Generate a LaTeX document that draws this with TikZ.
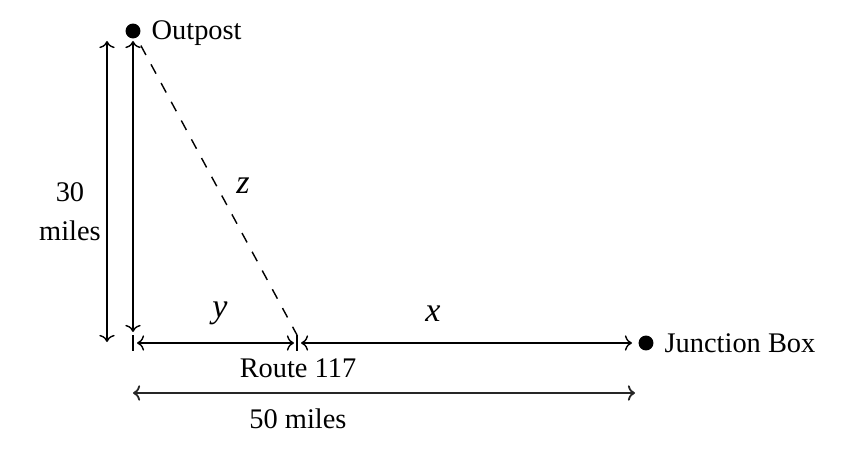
\documentclass[tikz,border=0pt]{standalone}
\usepackage{fontspec}
\setmainfont{Liberation Serif}
\usetikzlibrary{arrows.meta}
\begin{document}
\begin{tikzpicture}[x=0.4225pt,y=-0.4225pt,
  font=\fontsize{12}{16.5}\selectfont,
  dot/.style={circle,fill=black,inner sep=0pt,minimum size=6.3pt},
  dim/.style={line width=0.6pt,{To[length=3pt,width=6.5pt]}-{To[length=3pt,width=6.5pt]}},
  tick/.style={line width=0.6pt},
  varlab/.style={font=\fontsize{14.4}{17}\selectfont\itshape},
  ptlab/.style={anchor=west,xshift=1pt}]
\useasboundingbox (0,0) rectangle (856,457);
% points
\node[dot] (O) at (133,31) {};
\node[dot] (J) at (646,343) {};
\node[ptlab,yshift=-1pt] (Olab) at (O.east) {Outpost};
\node[ptlab] (Jlab) at (J.east) {Junction Box};
% ticks
\coordinate (T1a) at (133,335); \coordinate (T1b) at (133,351);
\coordinate (T2a) at (297,335); \coordinate (T2b) at (297,351);
\draw[tick] (T1a) -- (T1b);
\draw[tick] (T2a) -- (T2b);
% vertical dimension arrows
\coordinate (V1t) at (133,41); \coordinate (V1b) at (133,332);
\coordinate (V2t) at (107,41); \coordinate (V2b) at (107,342);
\draw[dim] (V1t) -- (V1b);
\draw[dim] (V2t) -- (V2b);
\node[align=center] (h) at (70,212) {30\\miles};
% dashed hypotenuse
\draw[line width=0.6pt,dash pattern=on 4.5pt off 4.5pt,shorten <=7pt] (O.center) -- (T2a);
\node[varlab] (zl) at (243,186) {z};
% horizontal segments
\coordinate (Ya) at (137,343); \coordinate (Yb) at (294,343);
\coordinate (Xa) at (301,343); \coordinate (Xb) at (632,343);
\draw[dim] (Ya) -- (Yb);
\draw[dim] (Xa) -- (Xb);
\node[varlab] (yl) at (220,313) {y};
\node[varlab] (xl) at (433,314) {x};
\node (route) at (298,368) {Route 117};
% total
\coordinate (Wa) at (133,393); \coordinate (Wb) at (635,393);
\draw[dim,line width=0.75pt,black!85] (Wa) -- (Wb);
\node (w) at (298,419) {50 miles};
\end{tikzpicture}
\end{document}
